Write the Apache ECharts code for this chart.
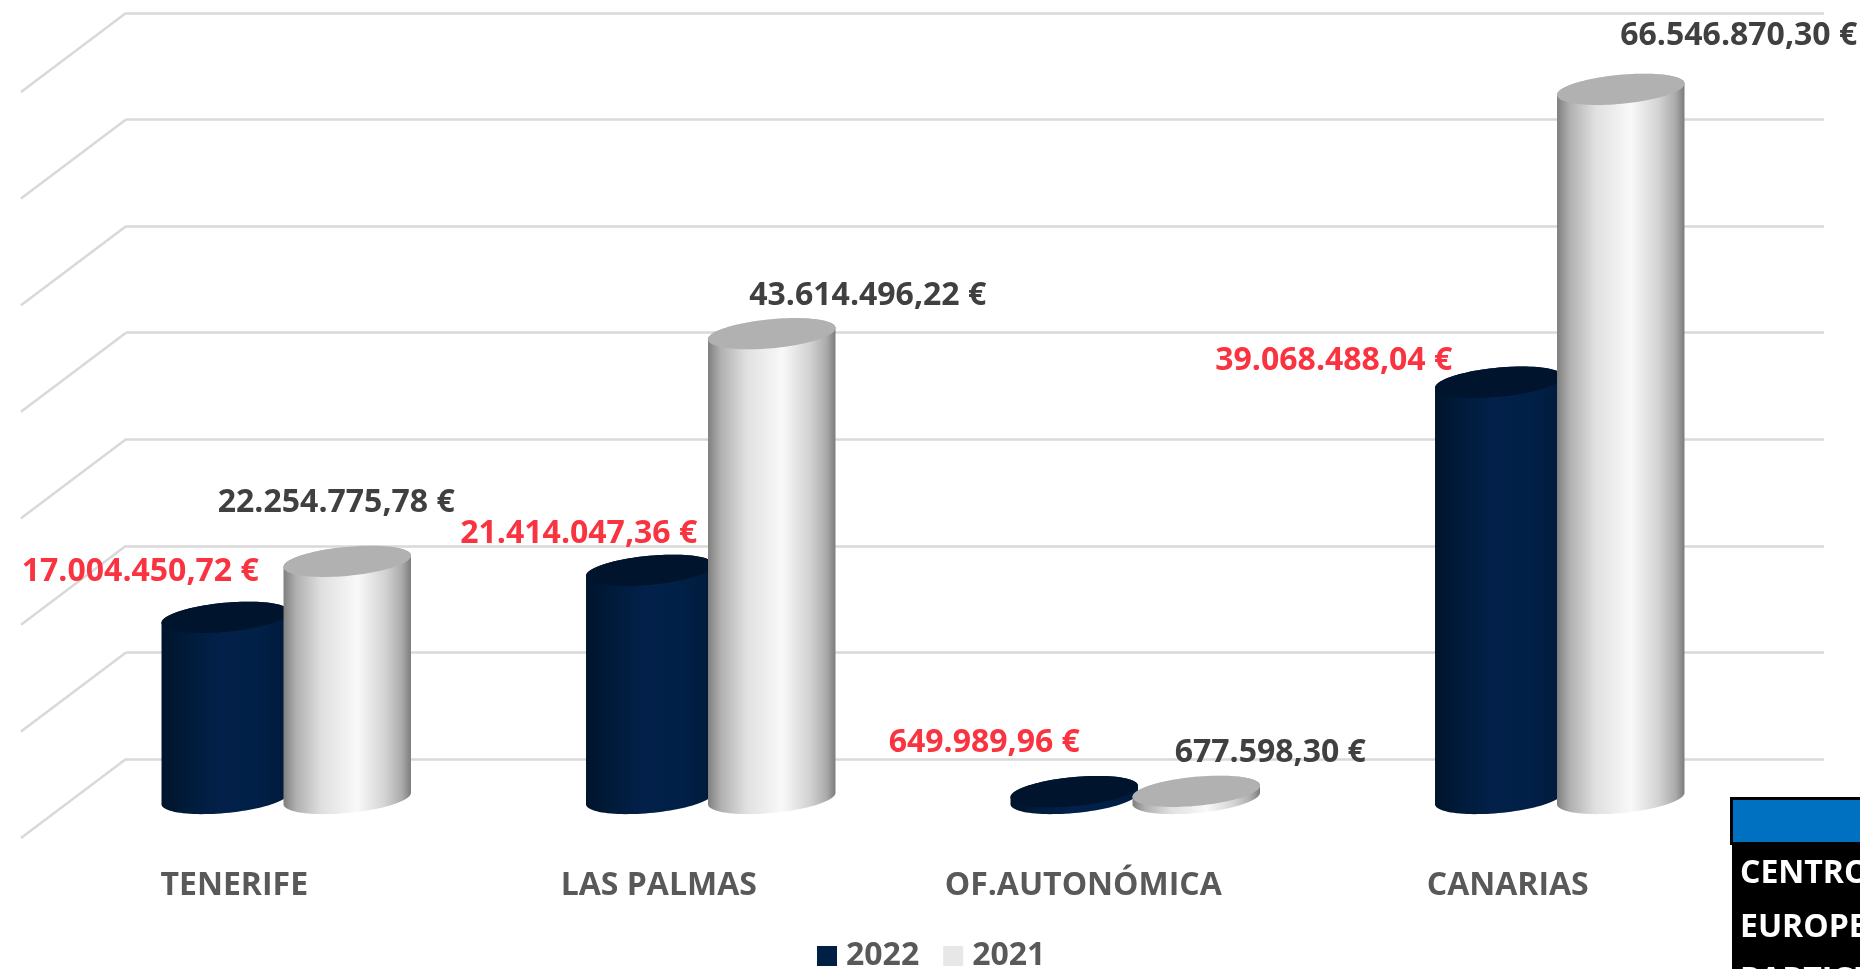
<!DOCTYPE html>
<html><head><meta charset="utf-8">
<style>html,body{margin:0;padding:0;background:#fff;overflow:hidden}#c{width:1860px;height:969px}</style>
<script src="https://cdn.jsdelivr.net/npm/echarts@6/dist/echarts.min.js"></script>
</head><body><div id="c"></div>
<script>
const categories = ['TENERIFE', 'LAS PALMAS', 'OF.AUTONÓMICA', 'CANARIAS'];
const values2022 = [17004450.72, 21414047.36, 649989.96, 39068488.04];
const values2021 = [22254775.78, 43614496.22, 677598.30, 66546870.30];
const labels2022 = ['17.004.450,72 €', '21.414.047,36 €', '649.989,96 €', '39.068.488,04 €'];
const labels2021 = ['22.254.775,78 €', '43.614.496,22 €', '677.598,30 €', '66.546.870,30 €'];
const wallTicks = [0, 10000000, 20000000, 30000000, 40000000, 50000000, 60000000, 70000000];
const boxLines = ['CENTRO', 'EUROPEO', 'PARTICIPACIÓN'];

// layout: label offsets from the cylinder's top centre
const offsets2022 = [[-85, -45], [-71, -36], [-90, -49], [-165, -21]];
const offsets2021 = [[-11, -58], [96, -38], [74, -38], [118, -53]];
const FONT = '"Open Sans", sans-serif';
const DEPTH_X = 105, DEPTH_Y = 79;       // full floor depth on screen
const MID_X = -52, MID_Y = 39.5;         // cylinders stand mid-depth
const RX = 64, RY = 14.5, TILT = -0.094, BAR_SHIFT = 61;

const darkBody = [[0, '#00142c'], [0.18, '#001a38'], [0.45, '#022049'], [0.75, '#012047'], [1, '#001a3a']];
const lightBody = [[0, '#7f7f7f'], [0.1, '#b0b0b0'], [0.3, '#e0e0e0'], [0.58, '#f9f9f9'], [0.8, '#d2d2d2'], [0.93, '#aaaaaa'], [1, '#7c7c7c']];

function ellipsePoints(cx, cy, from, to, n) {
  const out = [];
  for (let i = 0; i <= n; i++) {
    const t = from + (to - from) * i / n;
    out.push([
      cx + RX * Math.cos(t) * Math.cos(TILT) - RY * Math.sin(t) * Math.sin(TILT),
      cy + RX * Math.cos(t) * Math.sin(TILT) + RY * Math.sin(t) * Math.cos(TILT)
    ]);
  }
  return out;
}

function cylinder(shift, body, topColor, labels, offsets, labelColor) {
  return function (params, api) {
    const i = api.value(0);
    const top = api.coord([i, api.value(1)]);
    const base = api.coord([i, 0]);
    const cx = top[0] + MID_X + shift;
    const yTop = top[1] + MID_Y, yBase = base[1] + MID_Y;
    const t0 = Math.atan2(-RY * Math.sin(TILT), RX * Math.cos(TILT));
    const silhouette = ellipsePoints(cx, yBase, t0 + Math.PI, t0, 48)
      .concat(ellipsePoints(cx, yTop, t0, t0 - Math.PI, 48));
    const cap = ellipsePoints(cx, yTop, 0, Math.PI * 2, 96);
    return {
      type: 'group',
      children: [
        { type: 'polygon', shape: { points: silhouette },
          style: { fill: { type: 'linear', x: 0, y: 0, x2: 1, y2: 0, colorStops: body.map(s => ({ offset: s[0], color: s[1] })) } } },
        { type: 'polygon', shape: { points: cap }, style: { fill: topColor } },
        { type: 'text', z2: 100,
          style: { text: labels[i], x: cx + offsets[i][0], y: yTop + offsets[i][1],
            fill: labelColor, font: 'bold 32px ' + FONT, align: 'center', verticalAlign: 'middle' } }
      ]
    };
  };
}

const chart = echarts.init(document.getElementById('c'), null, { renderer: 'canvas' });
const boxX = 1732, boxTop = 797;
chart.setOption({
  animation: false,
  backgroundColor: '#ffffff',
  grid: [
    { left: 126, right: 36, top: 13, bottom: 210 },
    { left: 127 - DEPTH_X, right: 35 + DEPTH_X, top: 13 + DEPTH_Y, bottom: 210 - DEPTH_Y }
  ],
  xAxis: [
    { type: 'category', gridIndex: 0, data: categories, axisLine: { show: false }, axisTick: { show: false }, axisLabel: { show: false } },
    { type: 'category', gridIndex: 1, data: categories, axisLine: { show: false }, axisTick: { show: false },
      axisLabel: { color: '#595959', fontFamily: FONT, fontWeight: 'bold', fontSize: 32, margin: 32, interval: 0 } }
  ],
  yAxis: [
    { type: 'value', gridIndex: 0, min: 0, max: 70000000, interval: 10000000, axisLabel: { show: false },
      axisLine: { show: false }, axisTick: { show: false }, splitLine: { show: true, lineStyle: { color: '#d9d9d9', width: 2.5 } } },
    { type: 'value', gridIndex: 1, min: 0, max: 70000000, show: false, splitLine: { show: false } }
  ],
  legend: {
    data: ['2022', '2021'], left: 812, top: 935, itemWidth: 20, itemHeight: 20, itemGap: 24, icon: 'rect',
    textStyle: { color: '#595959', fontFamily: FONT, fontWeight: 'bold', fontSize: 32, padding: [0, 0, 0, 4] }
  },
  series: [
    { type: 'custom', name: 'wall', xAxisIndex: 0, yAxisIndex: 0, silent: true, clip: false, z: 1,
      data: wallTicks.map(v => [0, v]),
      renderItem(params, api) {
        const y = api.coord([0, api.value(1)])[1], x = params.coordSys.x;
        return { type: 'line', shape: { x1: x, y1: y, x2: x - DEPTH_X, y2: y + DEPTH_Y },
          style: { stroke: '#d9d9d9', lineWidth: 2.5, fill: null } };
      } },
    { type: 'custom', name: '2022', xAxisIndex: 0, yAxisIndex: 0, clip: false, z: 2, itemStyle: { color: '#001f45' },
      encode: { x: 0, y: 1 }, data: values2022.map((v, i) => [i, v]),
      renderItem: cylinder(-BAR_SHIFT, darkBody, '#00142d', labels2022, offsets2022, '#f93340') },
    { type: 'custom', name: '2021', xAxisIndex: 0, yAxisIndex: 0, clip: false, z: 3, itemStyle: { color: '#e7e7e7' },
      encode: { x: 0, y: 1 }, data: values2021.map((v, i) => [i, v]),
      renderItem: cylinder(BAR_SHIFT, lightBody, '#b1b1b1', labels2021, offsets2021, '#404040') }
  ],
  graphic: [
    { type: 'rect', z: 10, shape: { x: boxX, y: boxTop, width: 1860 - boxX, height: 969 - boxTop }, style: { fill: '#000000' } },
    { type: 'rect', z: 10, shape: { x: boxX - 2, y: boxTop, width: 4, height: 48 }, style: { fill: '#000000' } },
    { type: 'rect', z: 11, shape: { x: boxX + 1, y: boxTop + 3, width: 1860 - boxX, height: 42 }, style: { fill: '#0070c0' } }
  ].concat(boxLines.map((t, i) => ({
    type: 'text', z: 12, x: boxX + 8, y: 874 + i * 53.5,
    style: { text: t, fill: '#ffffff', font: 'bold 32px ' + FONT, align: 'left', verticalAlign: 'middle' }
  })))
});
</script></body></html>
